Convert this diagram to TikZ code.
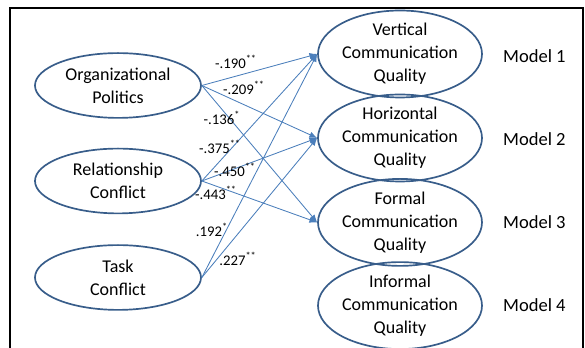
\documentclass[tikz,border=0pt]{standalone}
\usepackage{fontspec}
\setmainfont{Carlito}
\usetikzlibrary{shapes.geometric,arrows.meta}
\definecolor{outline}{HTML}{385D8A}
\definecolor{link}{HTML}{4A7EBB}
\begin{document}
\begin{tikzpicture}[
        var/.style={ellipse, draw=outline, line width=1.2pt, inner sep=0pt, align=center,
            font=\fontsize{12.8}{16.4}\selectfont},
        pred/.style={var, minimum width=4.15cm, minimum height=1.62cm},
        outc/.style={var, minimum width=4.1cm, minimum height=1.7cm},
        model/.style={font=\fontsize{13.2}{16.4}\selectfont},
        coef/.style={font=\fontsize{10.5}{12}\selectfont, inner sep=1pt},
        path/.style={draw=link, line width=0.6pt, -{Latex[length=5.5pt,width=4.5pt]}}
    ]
        \useasboundingbox (0,0) rectangle (14.625,8.7);
        % frame, open at the bottom
        \draw[line width=1pt] (0.25,0) |- (14.575,8.5) -- (14.575,0);

        % predictors
        \node[pred] (pol) at (2.95,6.5625) {Organizational\\Politics};
        \node[pred] (rel) at (2.95,4.175) {Relationship\\Conflict};
        \node[pred] (task) at (2.95,1.7625) {Task\\Conflict};

        % outcomes
        \node[outc] (vert) at (10.0,7.35) {Vertical\\Communication\\Quality};
        \node[outc] (hor) at (10.0,5.25) {Horizontal\\Communication\\Quality};
        \node[outc] (form) at (10.0,3.14) {Formal\\Communication\\Quality};
        \node[outc] (inf) at (10.0,1.06) {Informal\\Communication\\Quality};

        \node[model] (m1) at (13.36,7.3) {Model 1};
        \node[model] (m2) at (13.36,5.225) {Model 2};
        \node[model] (m3) at (13.36,3.15) {Model 3};
        \node[model] (m4) at (13.36,1.075) {Model 4};

        % paths
        \foreach \a/\b in {pol/vert, pol/hor, pol/form, rel/vert, rel/hor, rel/form, task/vert, task/hor}
            \draw[path] (\a.east) -- (\b.west);

        % coefficients
        \node[coef] (c1) at (5.9,7.15) {-.190\textsuperscript{**}};
        \node[coef] (c2) at (6.1,6.5) {-.209\textsuperscript{**}};
        \node[coef] (c3) at (5.55,5.75) {-.136\textsuperscript{*}};
        \node[coef] (c4) at (5.5,5.025) {-.375\textsuperscript{**}};
        \node[coef] (c5) at (5.875,4.45) {-.450\textsuperscript{**}};
        \node[coef] (c6) at (5.4,3.875) {-.443\textsuperscript{**}};
        \node[coef] (c7) at (5.3,2.95) {.192\textsuperscript{*}};
        \node[coef] (c8) at (5.95,2.225) {.227\textsuperscript{**}};
    \end{tikzpicture}
\end{document}
